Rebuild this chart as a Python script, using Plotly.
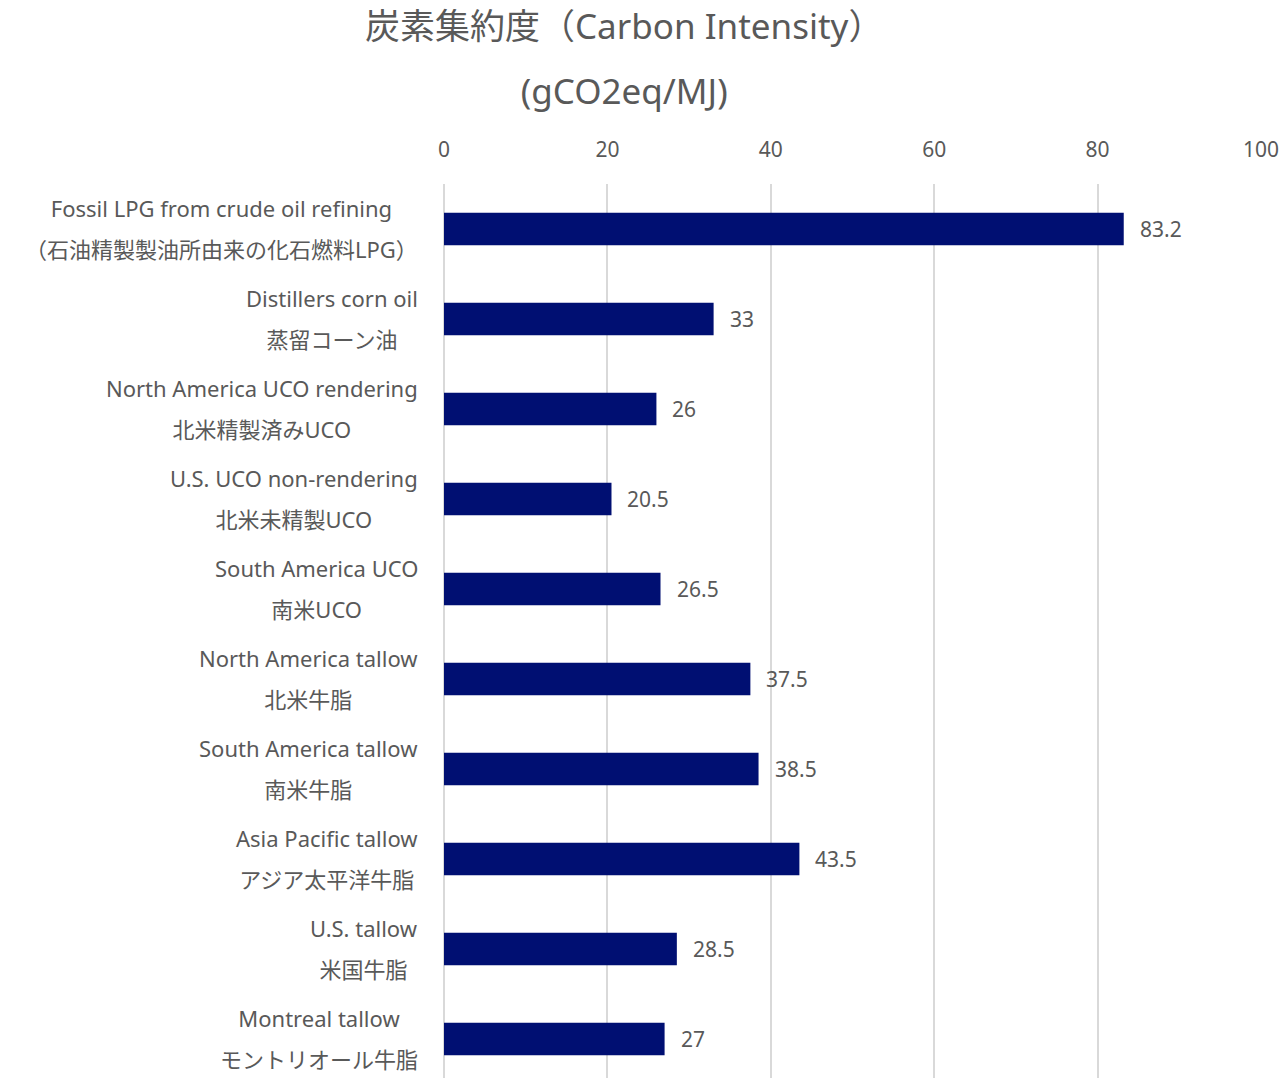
import plotly.graph_objects as go

# Carbon intensity by feedstock (gCO2eq/MJ)
labels_en = [
    "Fossil LPG from crude oil refining",
    "Distillers corn oil",
    "North America UCO rendering",
    "U.S. UCO non-rendering",
    "South America UCO",
    "North America tallow",
    "South America tallow",
    "Asia Pacific tallow",
    "U.S. tallow",
    "Montreal tallow",
]
labels_ja = [
    "（石油精製製油所由来の化石燃料LPG）",
    "蒸留コーン油",
    "北米精製済みUCO",
    "北米未精製UCO",
    "南米UCO",
    "北米牛脂",
    "南米牛脂",
    "アジア太平洋牛脂",
    "米国牛脂",
    "モントリオール牛脂",
]
values = [83.2, 33, 26, 20.5, 26.5, 37.5, 38.5, 43.5, 28.5, 27]
x_ticks = [0, 20, 40, 60, 80, 100]
title_lines = ["炭素集約度（Carbon Intensity）", "(gCO2eq/MJ)"]

FONT = "Noto Sans, Noto Sans CJK JP, sans-serif"
GREY = "#595959"
BAR = "#000F72"

W, H = 1284, 1078
M_L, M_R, M_T = 444, 23, 184
ROW_PX = 90  # height of one category row


def sized(text, px):
    # glyph size for one line; the outer font size sets the line spacing
    return f"<span style='font-size:{px}px'>{text}</span>"


cats = [f"{e} / {j}" for e, j in zip(labels_en, labels_ja)]

fig = go.Figure(
    go.Bar(
        x=values,
        y=cats,
        orientation="h",
        marker=dict(color=BAR, line=dict(width=0)),
        hoverinfo="skip",
    )
)

annotations = []

# Two-line category labels, centred on each other and right-aligned to the axis
for cat, en, ja in zip(cats, labels_en, labels_ja):
    annotations.append(dict(
        x=0, xref="paper", y=cat, yref="y",
        xanchor="right", yanchor="middle", xshift=-24, yshift=1,
        text=f"{sized(en, 22)}<br>{sized(ja, 22)}", align="center",
        showarrow=False,
        font=dict(family=FONT, size=31.5, color=GREY),
    ))

# Value labels at the end of each bar
for cat, v in zip(cats, values):
    annotations.append(dict(
        x=v, xref="x", y=cat, yref="y",
        xanchor="left", yanchor="middle", xshift=14,
        text=f"{v:g}", showarrow=False,
        font=dict(family=FONT, size=21, color=GREY),
    ))

# Two-line chart title
plot_w = W - M_L - M_R
annotations.append(dict(
    x=(624 - M_L) / plot_w, xref="paper",
    y=(H - 58) / (H - M_T), yref="paper",
    xanchor="center", yanchor="middle",
    text="<br>".join(sized(t, 35) for t in title_lines),
    align="center", showarrow=False,
    font=dict(family=FONT, size=50, color=GREY),
))

plot_h = H - M_T
fig.update_layout(
    width=W, height=H,
    margin=dict(l=M_L, r=M_R, t=M_T, b=0),
    paper_bgcolor="white", plot_bgcolor="white",
    showlegend=False,
    bargap=0.64,
    annotations=annotations,
    xaxis=dict(
        side="top", range=[0, 100], tickvals=x_ticks,
        showgrid=True, gridcolor="#D9D9D9", gridwidth=2,
        zeroline=True, zerolinecolor="#D9D9D9", zerolinewidth=2,
        showline=False, ticks="", ticklabelstandoff=22,
        tickfont=dict(family=FONT, size=21, color=GREY),
    ),
    yaxis=dict(
        range=[-0.5 + plot_h / ROW_PX, -0.5],
        showticklabels=False, showgrid=False,
        zeroline=False, showline=False, ticks="",
    ),
)

fig.write_html("out.html")
